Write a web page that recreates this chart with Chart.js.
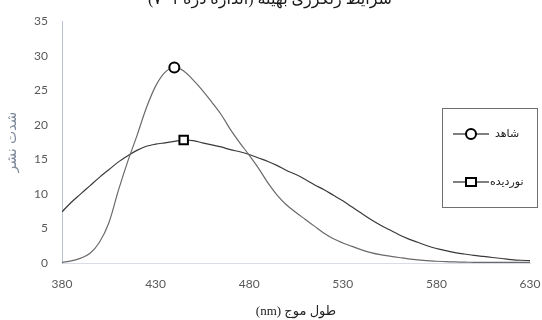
<!DOCTYPE html>
<html>
<head>
<meta charset="utf-8">
<script src="https://cdn.jsdelivr.net/npm/chart.js@4.4.1/dist/chart.umd.min.js"></script>
<style>
  html, body { margin: 0; padding: 0; background: #fff; }
  #wrap { width: 542px; height: 320px; position: relative; overflow: hidden; }
</style>
</head>
<body>
<div id="wrap"><canvas id="spectrum" width="542" height="320"></canvas></div>
<script>
// wavelength (nm), every 5 nm
const wavelengths = [
  380, 385, 390, 395, 400, 405, 410, 415, 420, 425,
  430, 435, 440, 445, 450, 455, 460, 465, 470, 475,
  480, 485, 490, 495, 500, 505, 510, 515, 520, 525,
  530, 535, 540, 545, 550, 555, 560, 565, 570, 575,
  580, 585, 590, 595, 600, 605, 610, 615, 620, 625, 630
];

// شاهد (control)
const controlValues = [
  0.1, 0.3, 0.7, 1.4, 3.0, 5.8, 10.4, 14.6, 18.4, 22.4,
  25.6, 27.6, 28.3, 27.8, 26.5, 25.0, 23.3, 21.5, 19.3, 17.4,
  15.6, 13.7, 11.6, 9.8, 8.4, 7.3, 6.3, 5.3, 4.3, 3.5,
  2.9, 2.4, 1.9, 1.5, 1.2, 1.0, 0.8, 0.6, 0.45, 0.35,
  0.25, 0.2, 0.15, 0.12, 0.1, 0.1, 0.1, 0.1, 0.1, 0.1, 0.1
];

// نوردیده (irradiated)
const irradiatedValues = [
  7.4, 8.8, 10.0, 11.2, 12.4, 13.5, 14.6, 15.5, 16.3, 16.9,
  17.2, 17.4, 17.6, 17.8, 17.7, 17.4, 17.1, 16.8, 16.4, 16.1,
  15.7, 15.2, 14.7, 14.1, 13.4, 12.8, 12.1, 11.3, 10.6, 9.8,
  9.0, 8.1, 7.2, 6.3, 5.5, 4.8, 4.1, 3.5, 3.0, 2.5,
  2.1, 1.8, 1.5, 1.3, 1.1, 0.95, 0.8, 0.65, 0.5, 0.4, 0.35
];

const seriesNames = ['شاهد', 'نوردیده'];
const markerAt = [440, 445]; // wavelength where each series shows its marker
const xTicks = [380, 430, 480, 530, 580, 630];
const yTicks = [0, 5, 10, 15, 20, 25, 30, 35];
const chartTitle = 'شرایط رنگرزی بهینه (اندازه ذره ۷۰۱)';

// right-to-left embedding so the parentheses sit like in the original
const rtl = s => '\u202B' + s + '\u202C';

function toPoints(vals) {
  return wavelengths.map((w, i) => ({ x: w, y: vals[i] }));
}
function radii(w0, r) {
  return wavelengths.map(w => (w === w0 ? r : 0));
}

const topTitle = {
  id: 'topTitle',
  afterDraw(chart) {
    const ctx = chart.ctx;
    ctx.save();
    ctx.font = '16px "Liberation Serif", "DejaVu Sans", serif';
    ctx.fillStyle = '#1a1a1a';
    ctx.textAlign = 'center';
    ctx.textBaseline = 'alphabetic';
    ctx.fillText(rtl(chartTitle), 270, 4);
    ctx.restore();
  }
};

const boxLegend = {
  id: 'boxLegend',
  afterDraw(chart) {
    const ctx = chart.ctx;
    ctx.save();
    ctx.fillStyle = '#fff';
    ctx.fillRect(442, 108, 96, 100);
    ctx.strokeStyle = '#6f6f6f';
    ctx.lineWidth = 1;
    ctx.strokeRect(442.5, 108.5, 95, 99);
    const rows = [134, 182];
    chart.data.datasets.forEach((ds, i) => {
      const y = rows[i];
      ctx.strokeStyle = '#000';
      ctx.lineWidth = 1.2;
      ctx.beginPath();
      ctx.moveTo(453, y);
      ctx.lineTo(489, y);
      ctx.stroke();
      ctx.lineWidth = 2;
      ctx.fillStyle = '#fff';
      ctx.beginPath();
      if (i === 0) {
        ctx.arc(471, y, 5, 0, Math.PI * 2);
      } else {
        ctx.rect(466, y - 4, 10, 8);
      }
      ctx.fill();
      ctx.stroke();
      ctx.fillStyle = '#222';
      ctx.font = '11px "DejaVu Sans", sans-serif';
      ctx.textAlign = 'left';
      ctx.textBaseline = 'middle';
      ctx.fillText(ds.label, i === 0 ? 495 : 490, y);
    });
    ctx.restore();
  }
};

const ctx = document.getElementById('spectrum').getContext('2d');
new Chart(ctx, {
  type: 'line',
  data: {
    datasets: [
      {
        label: seriesNames[0],
        data: toPoints(controlValues),
        borderColor: '#6a6a6a',
        borderWidth: 1.2,
        tension: 0.35,
        pointRadius: radii(markerAt[0], 5),
        pointHoverRadius: 0,
        pointStyle: 'circle',
        pointBorderColor: '#000',
        pointBackgroundColor: '#fff',
        pointBorderWidth: 2
      },
      {
        label: seriesNames[1],
        data: toPoints(irradiatedValues),
        borderColor: '#3a3a3a',
        borderWidth: 1.2,
        tension: 0.35,
        pointRadius: radii(markerAt[1], 6),
        pointHoverRadius: 0,
        pointStyle: 'rect',
        pointBorderColor: '#000',
        pointBackgroundColor: '#fff',
        pointBorderWidth: 2
      }
    ]
  },
  options: {
    responsive: false,
    animation: false,
    events: [],
    layout: { padding: { top: 20, right: 0, left: 0, bottom: 0 } },
    plugins: {
      legend: { display: false },
      title: { display: false },
      tooltip: { enabled: false }
    },
    scales: {
      x: {
        type: 'linear',
        min: 380,
        max: 630,
        afterBuildTicks(scale) { scale.ticks = xTicks.map(v => ({ value: v })); },
        afterFit(scale) {
          scale.height = 57;
          scale.paddingLeft = 0;
          scale.paddingRight = 12;
        },
        grid: { display: false, drawTicks: false },
        border: { display: true, color: '#d9dee6', width: 1 },
        ticks: {
          padding: 14,
          color: '#595959',
          font: { family: 'Lato, "Open Sans", sans-serif', size: 12 }
        },
        title: {
          display: true,
          text: rtl('طول موج (nm)'),
          color: '#222',
          padding: { top: 0, bottom: 1 },
          font: { family: '"Liberation Serif", "DejaVu Sans", serif', size: 13 }
        }
      },
      y: {
        min: 0,
        max: 35,
        afterBuildTicks(scale) { scale.ticks = yTicks.map(v => ({ value: v })); },
        afterFit(scale) { scale.width = 62; },
        grid: { display: false, drawTicks: false },
        border: { display: true, color: '#b7c1d1', width: 1 },
        ticks: {
          padding: 14,
          color: '#595959',
          font: { family: 'Lato, "Open Sans", sans-serif', size: 12 }
        },
        title: {
          display: true,
          text: 'شدت نشر',
          color: '#7d889b',
          padding: { top: 4, bottom: 0 },
          font: { family: '"DejaVu Sans", sans-serif', size: 14 }
        }
      }
    }
  },
  plugins: [topTitle, boxLegend]
});
</script>
</body>
</html>
